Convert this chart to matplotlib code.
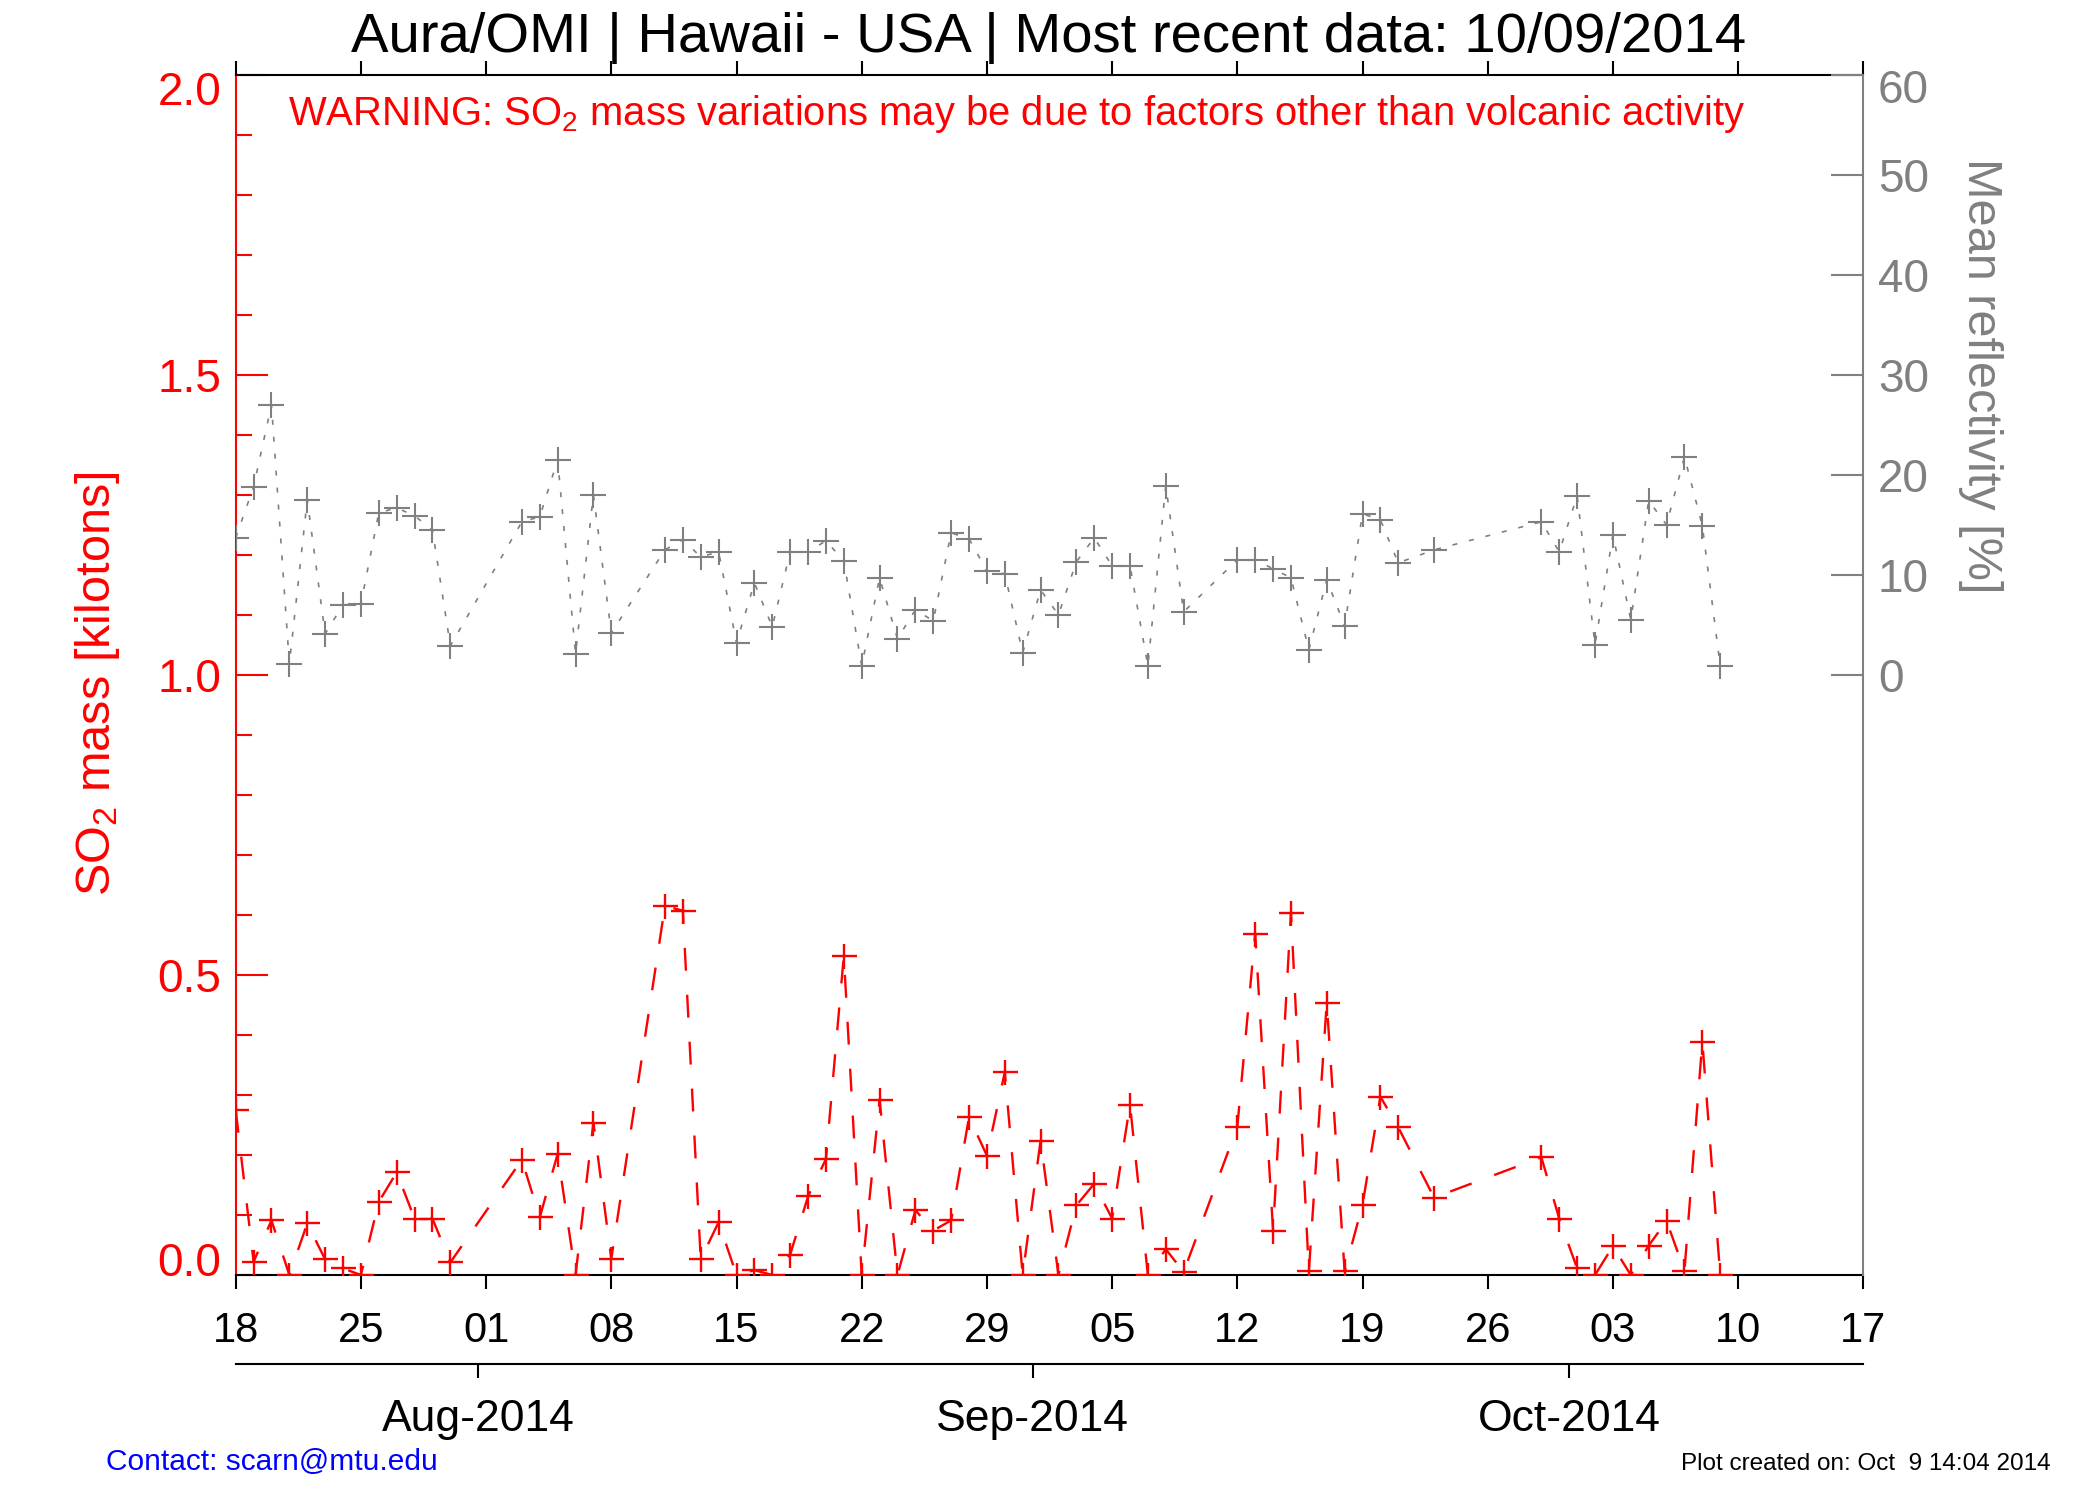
import numpy as np
import matplotlib
matplotlib.use('Agg')
import matplotlib.pyplot as plt
from matplotlib.ticker import FixedLocator, MultipleLocator
from matplotlib.transforms import ScaledTranslation

plt.rcParams['font.family'] = ['Liberation Sans', 'DejaVu Sans']
plt.rcParams['mathtext.fontset'] = 'custom'
plt.rcParams['mathtext.rm'] = 'Liberation Sans'
plt.rcParams['mathtext.it'] = 'Liberation Sans:italic'
plt.rcParams['mathtext.bf'] = 'Liberation Sans:bold'

# ---------------- data ----------------
obs_dates = np.array([
    '2014-07-18', '2014-07-19', '2014-07-20', '2014-07-21', '2014-07-22', '2014-07-23',
    '2014-07-24', '2014-07-25', '2014-07-26', '2014-07-27', '2014-07-28', '2014-07-29',
    '2014-07-30',
    '2014-08-03', '2014-08-04', '2014-08-05', '2014-08-06', '2014-08-07', '2014-08-08',
    '2014-08-11', '2014-08-12', '2014-08-13', '2014-08-14', '2014-08-15', '2014-08-16',
    '2014-08-17', '2014-08-18', '2014-08-19', '2014-08-20', '2014-08-21', '2014-08-22',
    '2014-08-23', '2014-08-24', '2014-08-25', '2014-08-26', '2014-08-27', '2014-08-28',
    '2014-08-29', '2014-08-30', '2014-08-31',
    '2014-09-01', '2014-09-02', '2014-09-03', '2014-09-04', '2014-09-05', '2014-09-06',
    '2014-09-07', '2014-09-08', '2014-09-09',
    '2014-09-12', '2014-09-13', '2014-09-14', '2014-09-15', '2014-09-16', '2014-09-17',
    '2014-09-18', '2014-09-19', '2014-09-20', '2014-09-21',
    '2014-09-23',
    '2014-09-29', '2014-09-30',
    '2014-10-01', '2014-10-02', '2014-10-03', '2014-10-04', '2014-10-05', '2014-10-06',
    '2014-10-07', '2014-10-08', '2014-10-09'], dtype='datetime64[D]')

so2_mass_kt = [
    0.275, 0.022, 0.091, 0.000, 0.086, 0.026, 0.011, 0.000, 0.122, 0.171, 0.094, 0.094,
    0.021,
    0.192, 0.096, 0.202, 0.000, 0.254, 0.027,
    0.615, 0.607, 0.026, 0.088, 0.000, 0.008, 0.000, 0.034, 0.131, 0.193, 0.532, 0.000,
    0.292, 0.000, 0.108, 0.074, 0.091, 0.263, 0.199, 0.338, 0.000,
    0.224, 0.000, 0.116, 0.152, 0.094, 0.284, 0.000, 0.043, 0.005,
    0.247, 0.569, 0.074, 0.604, 0.006, 0.454, 0.006, 0.117, 0.297, 0.246,
    0.129,
    0.196, 0.094,
    0.011, 0.000, 0.048, 0.000, 0.049, 0.090, 0.007, 0.389, 0.000]

reflectivity_pct = [
    13.7, 18.8, 27.0, 1.1, 17.5, 4.1, 7.0, 7.1, 16.2, 16.7, 15.9, 14.5,
    2.9,
    15.3, 15.8, 21.5, 2.1, 18.0, 4.2,
    12.5, 13.5, 11.8, 12.3, 3.2, 9.2, 4.8, 12.3, 12.3, 13.4, 11.4, 0.9,
    9.7, 3.6, 6.5, 5.4, 14.2, 13.6, 10.4, 10.1, 2.2,
    8.5, 6.0, 11.3, 13.7, 10.9, 10.9, 0.9, 18.9, 6.3,
    11.5, 11.5, 10.6, 9.7, 2.5, 9.5, 4.9, 16.1, 15.5, 11.2,
    12.5,
    15.3, 12.3,
    17.9, 3.0, 14.0, 5.5, 17.4, 15.0, 21.8, 14.9, 0.9]

x_start = np.datetime64('2014-07-18')
x_end = np.datetime64('2014-10-17')
week_ticks = np.arange(x_start, x_end + 1, 7)
month_starts = np.array(['2014-08-01', '2014-09-01', '2014-10-01'], dtype='datetime64[D]')
month_labels = ['Aug-2014', 'Sep-2014', 'Oct-2014']
so2_ticks = [0.0, 0.5, 1.0, 1.5, 2.0]
so2_tick_labels = ['0.0', '0.5', '1.0', '1.5', '2.0']
refl_ticks = [0, 10, 20, 30, 40, 50, 60]

title_text = 'Aura/OMI | Hawaii - USA | Most recent data: 10/09/2014'
warning_text = ('WARNING: SO$\\mathregular{_2}$ mass variations may be due to '
                'factors other than volcanic activity')
left_label = 'SO$\\mathregular{_2}$ mass [kilotons]'
right_label = 'Mean reflectivity [%]'
contact_text = 'Contact: scarn@mtu.edu'
created_text = 'Plot created on: Oct  9 14:04 2014'

# ---------------- plot ----------------
GRAY = '#808080'
x = (obs_dates - x_start).astype(float)
xmax = float((x_end - x_start).astype(float))

fig = plt.figure(figsize=(21, 15), dpi=100)
ax = fig.add_axes([0.11224, 0.15, 0.77505, 0.8002])

ax.plot(x, so2_mass_kt, color='red', lw=1.7, dashes=(9.7, 10.2),
        marker='+', ms=18, mew=1.7, zorder=3)
ax.set_xlim(0, xmax)
ax.set_ylim(0, 2.0)

wt = (week_ticks - x_start).astype(float)
ax.set_xticks(wt)
ax.set_xticklabels([str(d)[8:10] for d in week_ticks])
ax.tick_params(axis='x', which='major', direction='out', length=10, width=1.5,
               labelsize=30, pad=16, top=True, bottom=True, labeltop=False,
               color='black')

ax.yaxis.set_major_locator(FixedLocator(so2_ticks))
ax.set_yticklabels(so2_tick_labels)
ax.yaxis.set_minor_locator(MultipleLocator(0.1))
ax.tick_params(axis='y', which='major', direction='in', length=23, width=1.5,
               colors='red', labelsize=33, pad=10.5, right=False)
ax.tick_params(axis='y', which='minor', direction='in', length=11.5, width=1.5,
               colors='red', right=False)
ax.spines['left'].set_color('red')
ax.spines['right'].set_visible(False)
for s in ['left', 'top', 'bottom']:
    ax.spines[s].set_linewidth(1.5)

ax2 = ax.twinx()
ax2.plot(x, reflectivity_pct, color=GRAY, lw=1.2, dashes=(3, 7.2),
         marker='+', ms=19, mew=1.5, zorder=3)
ax2.set_ylim(-60, 60)
ax2.set_xlim(0, xmax)
ax2.set_yticks(refl_ticks)
ax2.tick_params(axis='y', direction='in', length=23, width=1.5, colors=GRAY,
                labelsize=33, pad=10.5)
for s in ['left', 'top', 'bottom']:
    ax2.spines[s].set_visible(False)
ax2.spines['right'].set_color(GRAY)
ax2.spines['right'].set_linewidth(1.5)

sec = ax.secondary_xaxis(-0.0741)
mt = (month_starts - x_start).astype(float) - 0.45
sec.set_xticks(mt)
sec.set_xticklabels(month_labels)
sec.tick_params(axis='x', direction='out', length=10, width=1.5, labelsize=32,
                pad=15)
for s in sec.spines.values():
    s.set_linewidth(1.5)


# end labels of the value axes sit slightly inside the axis range
def shift_label(lab, dy_px):
    lab.set_transform(lab.get_transform() +
                      ScaledTranslation(0, dy_px / 100.0, fig.dpi_scale_trans))


lt = ax.yaxis.get_major_ticks()
shift_label(lt[-1].label1, -13)
shift_label(lt[0].label1, 16)
rt = ax2.yaxis.get_major_ticks()
shift_label(rt[-1].label2, -11)

fig.text(1049 / 2100, 1 - 52 / 1500, title_text, ha='center', va='baseline',
         fontsize=40.5, color='black')
fig.text(1017 / 2100, 1 - 125 / 1500, warning_text, ha='center', va='baseline',
         fontsize=28.8, color='red')
fig.text(98 / 2100, 1 - 684 / 1500, left_label, rotation=90, ha='center',
         va='center', fontsize=35, color='red')
fig.text(1981 / 2100, 1 - 376 / 1500, right_label, rotation=270, ha='center',
         va='center', fontsize=35, color=GRAY)
fig.text(106 / 2100, 1 - 1470 / 1500, contact_text, ha='left', va='baseline',
         fontsize=21.5, color='blue')
fig.text(1681 / 2100, 1 - 1470 / 1500, created_text, ha='left', va='baseline',
         fontsize=17.5, color='black')

fig.savefig('out.png', dpi=100, facecolor='white')
